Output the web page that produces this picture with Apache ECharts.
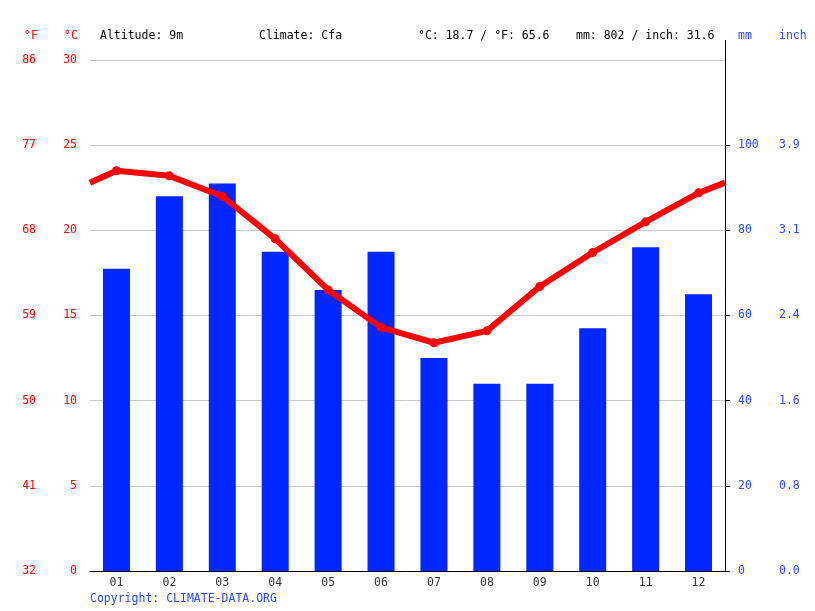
<!DOCTYPE html>
<html>
<head>
<meta charset="utf-8">
<script src="https://cdn.jsdelivr.net/npm/echarts@6/dist/echarts.min.js"></script>
<style>
  html, body { margin: 0; padding: 0; background: #fff; }
  #chart { width: 815px; height: 611px; }
</style>
</head>
<body>
<div id="chart"></div>
<script>
var months = ['01', '02', '03', '04', '05', '06', '07', '08', '09', '10', '11', '12'];
var precipMm = [71, 88, 91, 75, 66, 75, 50, 44, 44, 57, 76, 65];
var tempC = [23.5, 23.2, 22.0, 19.5, 16.5, 14.3, 13.4, 14.1, 16.7, 18.7, 20.5, 22.2];
// line runs on past Jan/Dec to the plot edges, value read at the edges
var tempEdge = 22.8;
var fLabels = ['32', '41', '50', '59', '68', '77', '86'];
var inchLabels = ['0.0', '0.8', '1.6', '2.4', '3.1', '3.9'];

var FONT = 'DejaVu Sans Mono';
var RED = '#ff0000';
var BLUE = '#0026ff';
var LABEL_BLUE = '#2a4bff';

var linePoints = [{ value: [0, tempEdge], symbol: 'none' }];
tempC.forEach(function (v, i) {
    linePoints.push([i + 0.5, v]);
});
linePoints.push({ value: [months.length, tempEdge], symbol: 'none' });

function headerText(x, text, color) {
    return {
        type: 'text',
        left: x,
        top: 30,
        style: { text: text, fill: color, font: '11.5px "' + FONT + '"' }
    };
}

var chart = echarts.init(document.getElementById('chart'));
var option = {
    animation: false,
    backgroundColor: '#fff',
    textStyle: { fontFamily: FONT },
    grid: { left: 90, right: 90, top: 60, bottom: 40 },
    xAxis: [
        {
            type: 'category',
            data: months,
            axisLine: { lineStyle: { color: '#000', width: 1 } },
            axisTick: { length: 5, lineStyle: { color: '#000' } },
            axisLabel: { color: '#333', fontSize: 11.5, fontFamily: FONT, margin: 6 },
            splitLine: { show: false }
        },
        {
            type: 'value',
            min: 0,
            max: months.length,
            show: false
        }
    ],
    yAxis: [
        {
            type: 'value',
            position: 'left',
            min: 0, max: 30, interval: 5,
            axisLine: { show: false },
            axisTick: { show: false },
            axisLabel: { color: RED, fontSize: 11.5, fontFamily: FONT, margin: 13 },
            splitLine: { lineStyle: { color: '#c8c8c8', width: 1 } }
        },
        {
            type: 'value',
            position: 'left',
            offset: 41,
            min: 0, max: 30, interval: 5,
            axisLine: { show: false },
            axisTick: { show: false },
            axisLabel: {
                color: RED, fontSize: 11.5, fontFamily: FONT, margin: 13,
                formatter: function (v) { return fLabels[Math.round(v / 5)]; }
            },
            splitLine: { show: false }
        },
        {
            type: 'value',
            position: 'right',
            min: 0, max: 120, interval: 20,
            axisLine: { show: true, lineStyle: { color: '#000', width: 1 } },
            axisTick: { show: true, length: 5, customValues: [0, 20, 40, 60, 80, 100], lineStyle: { color: '#000' } },
            axisLabel: {
                color: LABEL_BLUE, fontSize: 11.5, fontFamily: FONT, margin: 13,
                customValues: [0, 20, 40, 60, 80, 100],
                formatter: function (v) { return v > 100 ? '' : String(v); }
            },
            splitLine: { show: false }
        },
        {
            type: 'value',
            position: 'right',
            offset: 41,
            min: 0, max: 120, interval: 20,
            axisLine: { show: false },
            axisTick: { show: false },
            axisLabel: {
                color: LABEL_BLUE, fontSize: 11.5, fontFamily: FONT, margin: 13,
                customValues: [0, 20, 40, 60, 80, 100],
                formatter: function (v) { return inchLabels[Math.round(v / 20)] || ''; }
            },
            splitLine: { show: false }
        }
    ],
    series: [
        {
            name: 'Precipitation',
            type: 'bar',
            xAxisIndex: 0,
            yAxisIndex: 2,
            barWidth: '51%',
            itemStyle: { color: BLUE },
            data: precipMm,
            z: 2
        },
        {
            name: 'Temperature',
            type: 'line',
            xAxisIndex: 1,
            yAxisIndex: 0,
            symbol: 'circle',
            symbolSize: 9,
            lineStyle: { color: RED, width: 6 },
            itemStyle: { color: RED },
            data: linePoints,
            z: 5
        }
    ],
    graphic: [
        headerText(24, '°F', RED),
        headerText(64, '°C', RED),
        headerText(100, 'Altitude: 9m', '#000'),
        headerText(259, 'Climate: Cfa', '#000'),
        headerText(418, '°C: 18.7 / °F: 65.6', '#000'),
        headerText(576, 'mm: 802 / inch: 31.6', '#000'),
        headerText(738, 'mm', LABEL_BLUE),
        headerText(779, 'inch', LABEL_BLUE),
        {
            type: 'line',
            shape: { x1: 725.5, y1: 40, x2: 725.5, y2: 60 },
            style: { stroke: '#000', lineWidth: 1 }
        },
        {
            type: 'text',
            left: 90,
            top: 593,
            style: { text: 'Copyright: CLIMATE-DATA.ORG', fill: LABEL_BLUE, font: '11.5px "' + FONT + '"' }
        }
    ]
};
chart.setOption(option);
</script>
</body>
</html>
